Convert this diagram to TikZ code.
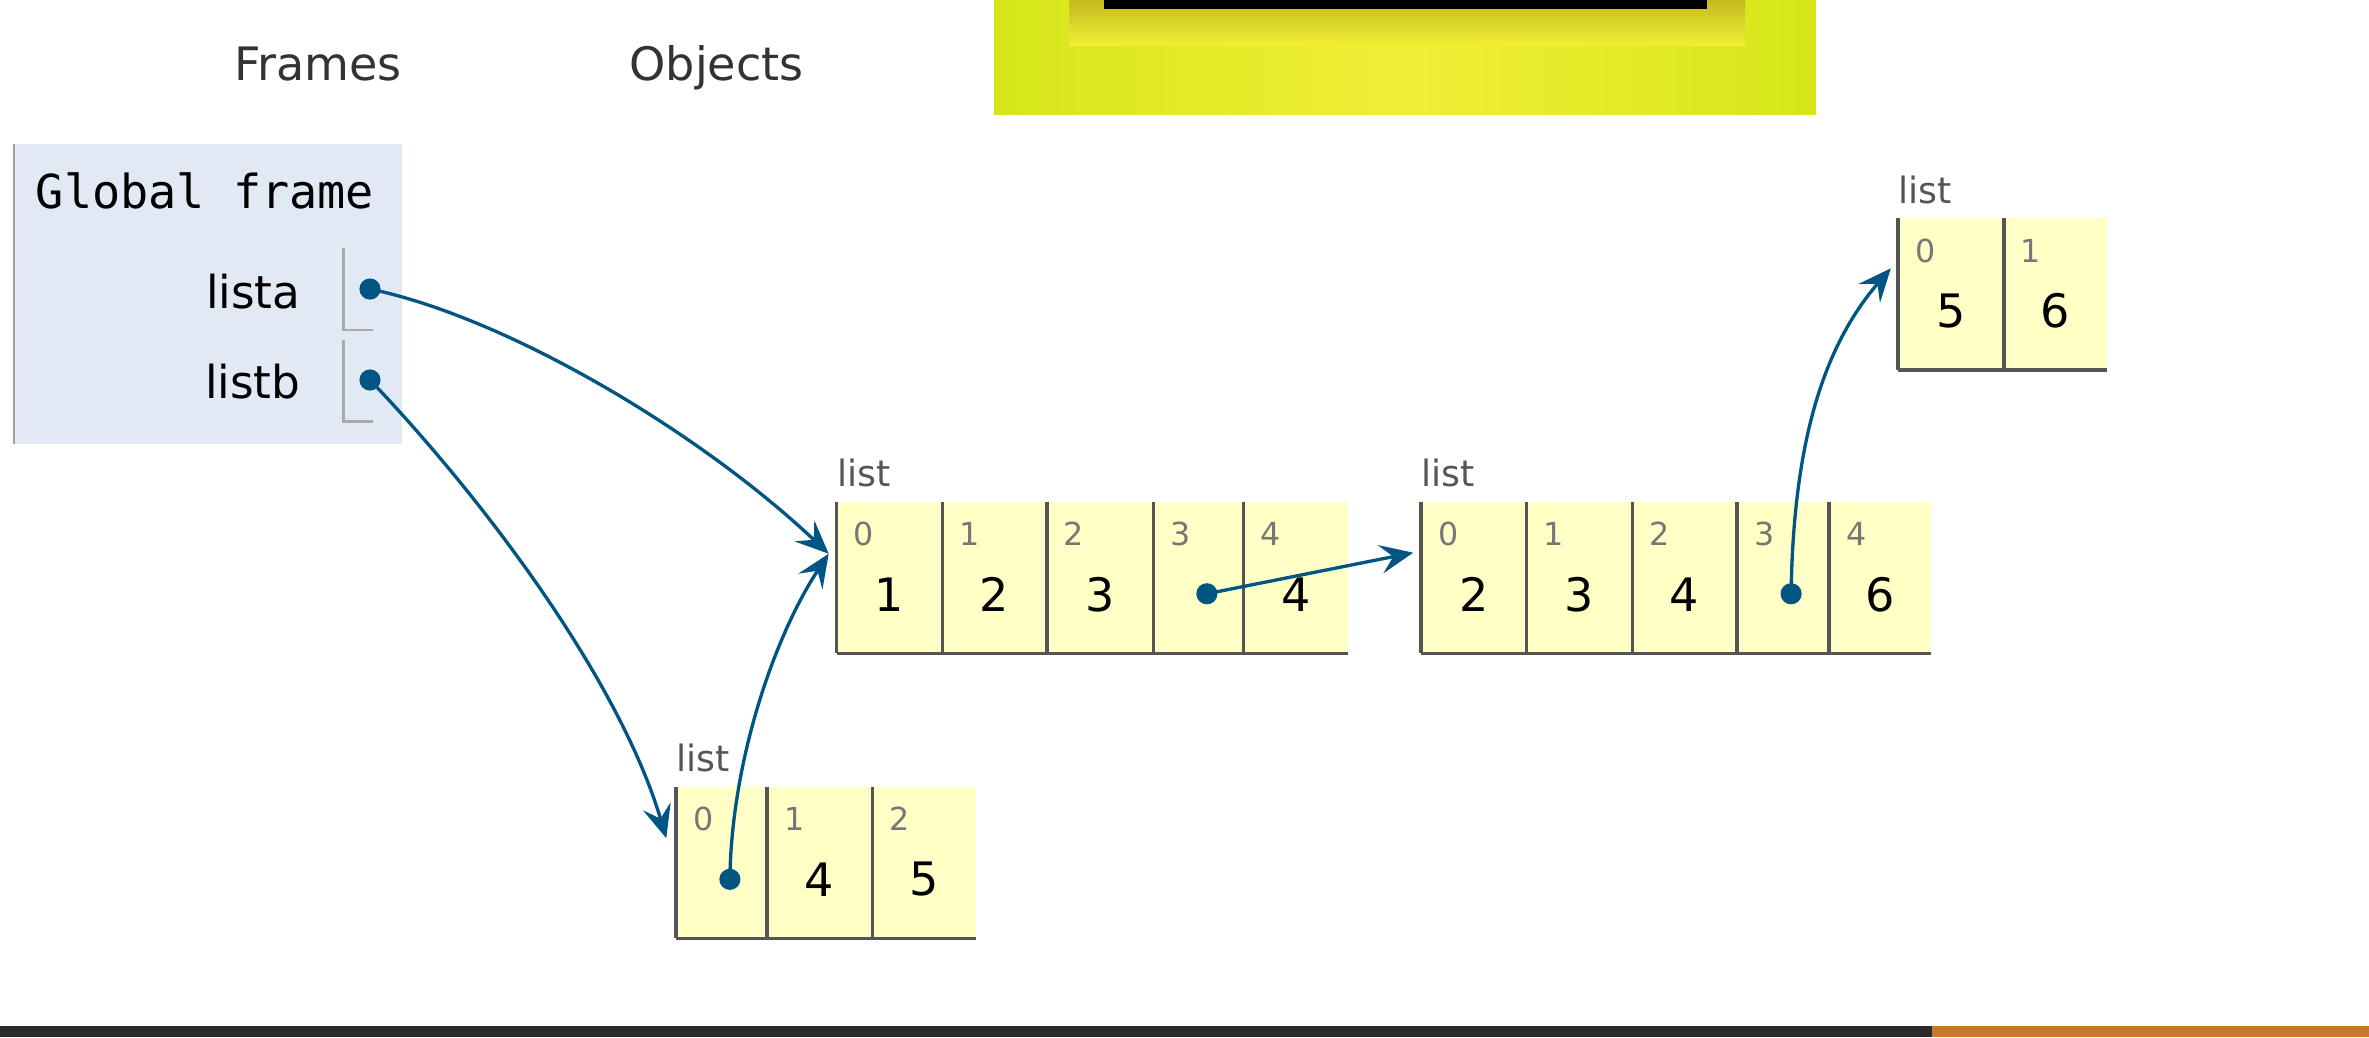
\documentclass[tikz,border=0pt]{standalone}
\usepackage{fontspec}
\setmainfont{DejaVu Sans}
\newfontfamily\ptmono{DejaVu Sans Mono}
\usetikzlibrary{arrows.meta}
\definecolor{ptarrow}{HTML}{005583}
\definecolor{ptcellfill}{HTML}{FFFFC6}
\definecolor{ptborder}{HTML}{555555}
\definecolor{ptidxcol}{HTML}{777777}
\definecolor{ptframe}{HTML}{E1E9F5}
\definecolor{ptframeline}{HTML}{A0A0A0}
\definecolor{ptbracket}{HTML}{AAAAAA}
\definecolor{pthead}{HTML}{333333}
\definecolor{ptdark}{HTML}{2B2B2B}
\definecolor{ptorange}{HTML}{C8772F}
\definecolor{ylime}{HTML}{D6E61A}
\definecolor{yyellow}{HTML}{F2EE36}
\definecolor{yolive}{HTML}{C4BA1C}
\newcommand{\ptcell}[6]{%
  \node[listcell, minimum width=#4pt] (#1) at (#2,#3) {};
  \draw[celledge] (#1.north west) -- (#1.south west);
  \node[idxlbl] (#1i) at ([xshift=18pt,yshift=-21.5pt]#1.north west) {#5};
  \node[vallbl] (#1v) at ([yshift=-11.3pt]#1.center) {#6};
}
\begin{document}
\begin{tikzpicture}[x=1pt,y=-1pt,
  listcell/.style={anchor=north west, fill=ptcellfill, minimum height=100.4pt, inner sep=0pt, outer sep=0pt},
  celledge/.style={draw=ptborder, line width=2.2pt},
  idxlbl/.style={text=ptidxcol, font=\fontsize{21}{22}\selectfont, inner sep=0pt},
  vallbl/.style={text=black, font=\fontsize{30.5}{32}\selectfont, inner sep=0pt},
  typelbl/.style={text=ptborder, font=\fontsize{24}{25}\selectfont, inner sep=0pt, anchor=base west},
  ptrdot/.style={circle, fill=ptarrow, minimum size=14pt, inner sep=0pt},
  ptrarrow/.style={draw=ptarrow, line width=2.2pt, -{Stealth[length=22pt,width=19pt,inset=8.5pt]}},
  header/.style={text=pthead, font=\fontsize{30.5}{32}\selectfont, inner sep=0pt},
  varname/.style={text=black, font=\fontsize{30}{32}\selectfont, inner sep=0pt, anchor=base east},
  bracket/.style={draw=ptbracket, line width=1.8pt}
  ]
\useasboundingbox (0,0) rectangle (1568,686.4);
\fill[white] (0,0) rectangle (1568,686.4);

% decorative yellow image at top
\shade[left color=ylime, right color=ylime, middle color=yyellow] (658,0) rectangle (1202,76);
\shade[top color=yolive, bottom color=yyellow] (708,0) rectangle (1155,30);
\fill[black] (731,0) rectangle (1130,6);

% bottom bar
\fill[ptdark] (0,679.3) rectangle (1279,686.4);
\fill[ptorange] (1279,679.3) rectangle (1568,686.4);

% headers
\node[header, anchor=base east] (hframes) at (266,53) {Frames};
\node[header, anchor=base west] (hobjects) at (416.5,53) {Objects};

% global frame
\node[anchor=north west, fill=ptframe, minimum width=257.5pt, minimum height=198.7pt, inner sep=0pt, outer sep=0pt] (gframe) at (8.5,95.3) {};
\draw[draw=ptframeline, line width=1.5pt] ([xshift=0.75pt]gframe.north west) -- ([xshift=0.75pt]gframe.south west);
\node[anchor=base west, font=\ptmono\fontsize{31}{32}\selectfont, inner sep=0pt] (gtitle) at (23.5,138) {Global frame};
\node[varname] (vlista) at (199,204) {lista};
\node[varname] (vlistb) at (199,263.6) {listb};
\draw[bracket] (227.2,164.4) -- (227.2,218.4) -- (247,218.4);
\draw[bracket] (227.2,225) -- (227.2,279) -- (247,279);
\node[ptrdot] (dlista) at (244.9,191.3) {};
\node[ptrdot] (dlistb) at (244.9,251.5) {};

% list A: [1,2,3,ptr,4]
\ptcell{a0}{553.8}{332}{69.8}{0}{1}
\ptcell{a1}{623.6}{332}{69.3}{1}{2}
\ptcell{a2}{692.9}{332}{70.5}{2}{3}
\ptcell{a3}{763.4}{332}{59.8}{3}{}
\ptcell{a4}{823.2}{332}{68.8}{4}{4}
\draw[celledge] (a0.south west) -- (a4.south east);
\node[typelbl] (atype) at ([yshift=10pt]a0.north west) {list};
\node[ptrdot] (a3dot) at (798.8,393) {};

% list B: [2,3,4,ptr,6]
\ptcell{b0}{940.6}{332}{69.9}{0}{2}
\ptcell{b1}{1010.5}{332}{69.8}{1}{3}
\ptcell{b2}{1080.3}{332}{69.4}{2}{4}
\ptcell{b3}{1149.7}{332}{60.8}{3}{}
\ptcell{b4}{1210.5}{332}{67.3}{4}{6}
\draw[celledge] (b0.south west) -- (b4.south east);
\node[typelbl] (btype) at ([yshift=10pt]b0.north west) {list};
\node[ptrdot] (b3dot) at (1185.5,393) {};

% list C: [5,6]
\ptcell{c0}{1256.3}{144.4}{70}{0}{5}
\ptcell{c1}{1326.3}{144.4}{68.2}{1}{6}
\draw[celledge] (c0.south west) -- (c1.south east);
\node[typelbl] (ctype) at ([yshift=10pt]c0.north west) {list};

% list D: [ptr,4,5]
\ptcell{d0}{447.4}{520.6}{60.2}{0}{}
\ptcell{d1}{507.6}{520.6}{69.7}{1}{4}
\ptcell{d2}{577.3}{520.6}{68.7}{2}{5}
\draw[celledge] (d0.south west) -- (d2.south east);
\node[typelbl] (dtype) at ([yshift=10pt]d0.north west) {list};
\node[ptrdot] (d0dot) at (483.1,582) {};

% arrow targets
\coordinate (tipA) at (548.5,366.5);
\coordinate (tipB) at (935.4,365.8);
\coordinate (tipC) at (1251.5,177.6);
\coordinate (tipD) at (441,554.8);

% pointers
\draw[ptrarrow] (dlista.center) .. controls (335,210) and (462,285) .. (tipA);
\draw[ptrarrow] (dlistb.center) .. controls (320,330) and (410,450) .. (tipD);
\draw[ptrarrow] (d0dot.center) .. controls (484,505) and (512,422) .. (tipA);
\draw[ptrarrow] (a3dot.center) -- (tipB);
\draw[ptrarrow] (b3dot.center) .. controls (1187,290) and (1208,228) .. (tipC);
\end{tikzpicture}
\end{document}
